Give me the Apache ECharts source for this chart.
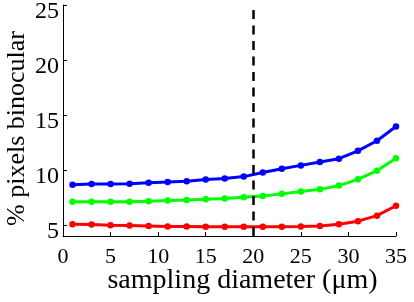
<!DOCTYPE html>
<html>
<head>
<meta charset="utf-8">
<script src="https://cdn.jsdelivr.net/npm/echarts@6/dist/echarts.min.js"></script>
<style>
  html, body { margin: 0; padding: 0; background: #fff; }
  #chart { width: 414px; height: 302px; }
</style>
</head>
<body>
<div id="chart"></div>
<script>
// sampling diameter (µm)
var diameters = [1, 3, 5, 7, 9, 11, 13, 15, 17, 19, 21, 23, 25, 27, 29, 31, 33, 35];
// % pixels binocular
var blueVals  = [8.67, 8.72, 8.72, 8.75, 8.84, 8.90, 8.98, 9.14, 9.23, 9.40, 9.78, 10.12, 10.42, 10.73, 11.03, 11.74, 12.66, 13.95];
var greenVals = [7.11, 7.11, 7.11, 7.11, 7.17, 7.22, 7.27, 7.35, 7.40, 7.53, 7.64, 7.83, 8.05, 8.24, 8.58, 9.15, 9.94, 11.07];
var redVals   = [5.07, 5.04, 4.98, 4.95, 4.92, 4.87, 4.86, 4.84, 4.83, 4.83, 4.83, 4.83, 4.86, 4.90, 5.07, 5.35, 5.85, 6.75];
var yTicks = [5, 10, 15, 20, 25];
var cutoff = 20;

function pairs(vals) {
  return diameters.map(function (d, i) { return [d, vals[i]]; });
}

function lineSeries(name, color, vals) {
  return {
    name: name,
    type: 'line',
    data: pairs(vals),
    symbol: 'circle',
    symbolSize: 6.5,
    lineStyle: { color: color, width: 3 },
    itemStyle: { color: color },
    silent: true,
    z: 3
  };
}

var chart = echarts.init(document.getElementById('chart'));
var font = 'Liberation Serif';

var series = [
  lineSeries('red', '#ff0000', redVals),
  lineSeries('green', '#00ff00', greenVals),
  lineSeries('blue', '#0000ff', blueVals)
];
// dashed cut-off line
series[0].markLine = {
  silent: true,
  symbol: 'none',
  label: { show: false },
  lineStyle: { color: '#000', type: [9, 6.5], width: 2.5 },
  data: [{ xAxis: cutoff }]
};

chart.setOption({
  animation: false,
  backgroundColor: '#fff',
  grid: { left: 63, right: 18, top: 5, bottom: 66, outerBoundsMode: 'none', containLabel: false },
  xAxis: {
    type: 'value',
    min: 0, max: 35, interval: 5,
    name: 'sampling diameter (\u03bcm)',
    nameLocation: 'middle',
    nameGap: 31,
    nameMoveOverlap: false,
    nameTextStyle: { fontFamily: font, fontSize: 28, color: '#000', padding: [0, 0, 0, 26] },
    axisLine: { lineStyle: { color: '#000', width: 1 } },
    axisTick: { inside: true, length: 4, lineStyle: { color: '#000' } },
    axisLabel: { fontFamily: font, fontSize: 22, color: '#000', margin: 10 },
    splitLine: { show: false }
  },
  yAxis: {
    type: 'value',
    min: 4, max: 25,
    name: '% pixels binocular',
    nameLocation: 'middle',
    nameGap: 33,
    nameMoveOverlap: false,
    nameTextStyle: { fontFamily: font, fontSize: 26, color: '#000', padding: [0, 16, 0, 0] },
    axisLine: { show: true, lineStyle: { color: '#000', width: 1 } },
    axisTick: { show: true, inside: true, length: 4, customValues: yTicks, lineStyle: { color: '#000' } },
    axisLabel: {
      fontFamily: font, fontSize: 24, color: '#000', margin: 4,
      verticalAlign: 'top', lineHeight: 14, customValues: yTicks
    },
    splitLine: { show: false }
  },
  series: series
});
</script>
</body>
</html>
